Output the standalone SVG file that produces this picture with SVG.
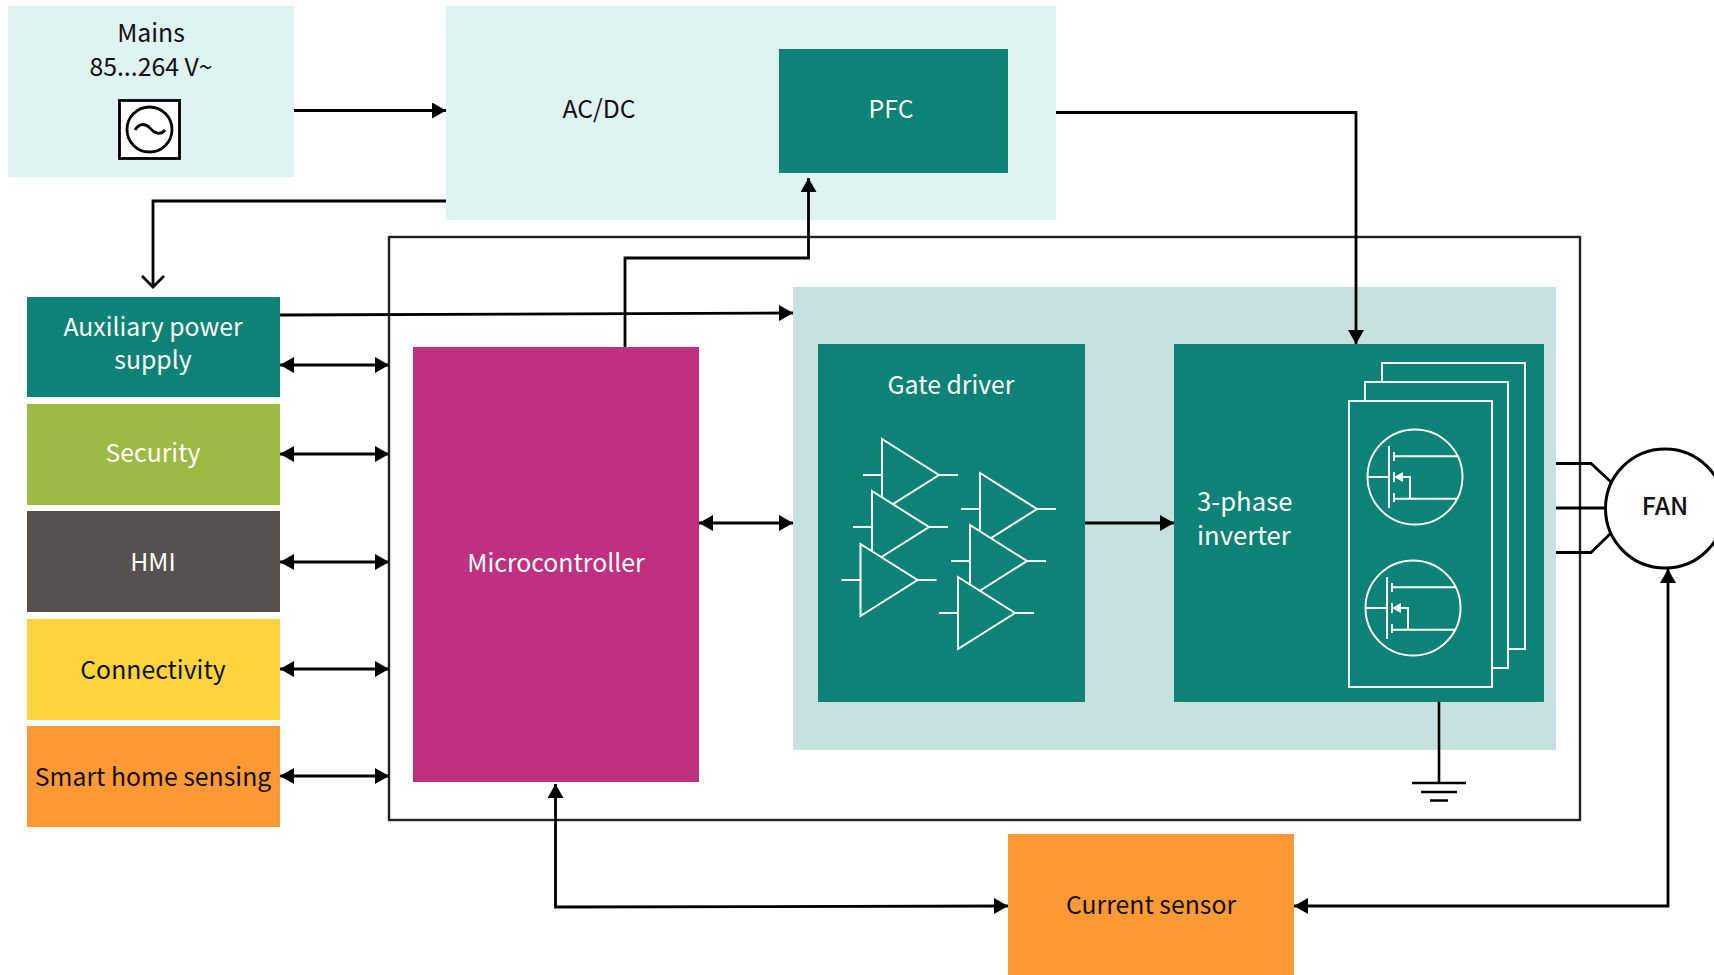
<svg xmlns="http://www.w3.org/2000/svg" xmlns:xlink="http://www.w3.org/1999/xlink" width="1714" height="975" viewBox="0 0 1714 975">
<style>
text{font-family:"Noto Sans CJK SC","Noto Sans",sans-serif;font-size:24.8px;text-anchor:middle}
.d{fill:#111}.w{fill:#fff}
.c{fill:none;stroke:#000;stroke-width:2.800}
.s{fill:none;stroke:#fff;stroke-width:2}
.t{fill:#0d8276;stroke:#fff;stroke-width:2}
</style>
<defs>
<marker id="a" markerUnits="userSpaceOnUse" markerWidth="15" markerHeight="16" refX="14" refY="8" orient="auto-start-reverse"><path d="M0 0L14 8L0 16Z" fill="#000"/></marker>
<marker id="o" markerUnits="userSpaceOnUse" markerWidth="16" markerHeight="24" refX="14" refY="12" orient="auto"><path d="M3 1L14 12L3 23" fill="none" stroke="#000" stroke-width="2.800"/></marker>
<g id="tri"><path class="t" d="M0 0L57 36L0 72Z"/><path class="s" d="M-19 36H0M57 36H76"/></g>
<g id="fet"><circle class="s" r="47.500"/><path class="s" d="M-48 0H-26.500M-26 -31V31M-21 -25V-16M-21 -5V5M-21 16V25M-21 -20.700H42M-21 21.800H43M-13 0H-5V21.800"/><path d="M-21 0L-12 -5V5Z" fill="#fff"/></g>
</defs>
<rect width="1714" height="975" fill="#fff"/>
<g id="mains"><rect x="8" y="6" width="286" height="171" fill="#dff3f1"/>
<text class="d" x="151" y="42">Mains</text><text class="d" x="151" y="76">85...264 V~</text>
<rect x="119.500" y="100.500" width="60" height="58" fill="#fff" stroke="#000" stroke-width="2.800"/><circle cx="149.500" cy="129.500" r="22.500" fill="#fff" stroke="#000" stroke-width="2.800"/><path d="M135 130C140 122 146 124 150 128C154 133 160 136 165 130" fill="none" stroke="#000" stroke-width="2.800"/></g>
<g id="acdc"><rect x="446" y="6" width="610" height="214" fill="#dff3f1"/><text class="d" x="599" y="117.500">AC/DC</text></g>
<g id="pfc"><rect x="779" y="49" width="229" height="124" fill="#0d8276"/><text class="w" x="891" y="117.500">PFC</text></g>
<g id="frame"><rect x="389" y="237" width="1191" height="583" fill="none" stroke="#222" stroke-width="2.400"/></g>
<g id="power-stage"><rect x="793" y="287" width="763" height="463" fill="#c7e1e1"/></g>
<g id="aux"><rect x="27" y="297" width="253" height="100" fill="#0d8276"/><text class="w" x="153" y="336">Auxiliary power</text><text class="w" x="153" y="369">supply</text></g>
<g id="security"><rect x="27" y="404" width="253" height="101" fill="#9dba44"/><text class="w" x="153" y="461.500">Security</text></g>
<g id="hmi"><rect x="27" y="511" width="253" height="101" fill="#565150"/><text class="w" x="153" y="570.500">HMI</text></g>
<g id="connectivity"><rect x="27" y="619" width="253" height="101" fill="#fdd33e"/><text class="d" x="153" y="678.500">Connectivity</text></g>
<g id="smart"><rect x="27" y="726" width="253" height="101" fill="#fe9936"/><text class="d" x="153" y="785.500">Smart home sensing</text></g>
<g id="mcu"><rect x="413" y="347" width="286" height="435" fill="#bf3081"/><text class="w" x="556" y="571.500">Microcontroller</text></g>
<g id="gate-driver"><rect x="818" y="344" width="267" height="358" fill="#0d8276"/><text class="w" x="951" y="393.500">Gate driver</text>
<use xlink:href="#tri" x="882" y="439"/><use xlink:href="#tri" x="872" y="491"/><use xlink:href="#tri" x="860.500" y="544"/><use xlink:href="#tri" x="980" y="473"/><use xlink:href="#tri" x="970" y="525"/><use xlink:href="#tri" x="958" y="577"/></g>
<g id="inverter"><rect x="1174" y="344" width="370" height="358" fill="#0d8276"/><text class="w" x="1197" y="511" style="text-anchor:start;font-size:25.700px">3-phase</text><text class="w" x="1197" y="545" style="text-anchor:start;font-size:25.700px">inverter</text>
<rect class="t" x="1382" y="363" width="143" height="286"/><rect class="t" x="1365" y="382" width="143" height="286"/><rect class="t" x="1349" y="401" width="143" height="286"/>
<use xlink:href="#fet" x="1415" y="477"/><use xlink:href="#fet" x="1413" y="608"/></g>
<g id="fan"><circle cx="1665" cy="508.500" r="59.500" fill="#fff" stroke="#000" stroke-width="3"/><text class="d" x="1665" y="515" style="font-weight:500">FAN</text></g>
<g id="current-sensor"><rect x="1008" y="834" width="286" height="141" fill="#fe9936"/><text class="d" x="1151" y="913.500">Current sensor</text></g>
<g id="connectors">
<path class="c" marker-end="url(#a)" d="M294 110.500H446"/>
<path class="c" marker-end="url(#o)" d="M446 201H153V287"/>
<path class="c" marker-end="url(#a)" d="M1056 112.500H1356V344"/>
<path class="c" marker-end="url(#a)" d="M625 347V258H808.500V178"/>
<path class="c" marker-end="url(#a)" d="M280 315L793 313"/>
<path class="c" marker-start="url(#a)" marker-end="url(#a)" d="M280 365H389"/>
<path class="c" marker-start="url(#a)" marker-end="url(#a)" d="M280 454H389"/>
<path class="c" marker-start="url(#a)" marker-end="url(#a)" d="M280 562H389"/>
<path class="c" marker-start="url(#a)" marker-end="url(#a)" d="M280 669H389"/>
<path class="c" marker-start="url(#a)" marker-end="url(#a)" d="M280 776H389"/>
<path class="c" marker-start="url(#a)" marker-end="url(#a)" d="M699 523H793"/>
<path class="c" marker-end="url(#a)" d="M1085 523H1174"/>
<path class="c" marker-start="url(#a)" marker-end="url(#a)" d="M555.500 784V907L1008 906"/>
<path class="c" marker-start="url(#a)" marker-end="url(#a)" d="M1294 906H1668V569"/>
<path class="c" d="M1556 463.500H1591L1611 482M1556 508H1606M1556 552.500H1591L1611 533"/>
<path class="c" style="stroke-width:2.600" d="M1439 702V783"/>
<path class="c" style="stroke-width:2.600" d="M1412 783H1466M1421 792H1457M1430 800.500H1448"/>
</g>
</svg>
